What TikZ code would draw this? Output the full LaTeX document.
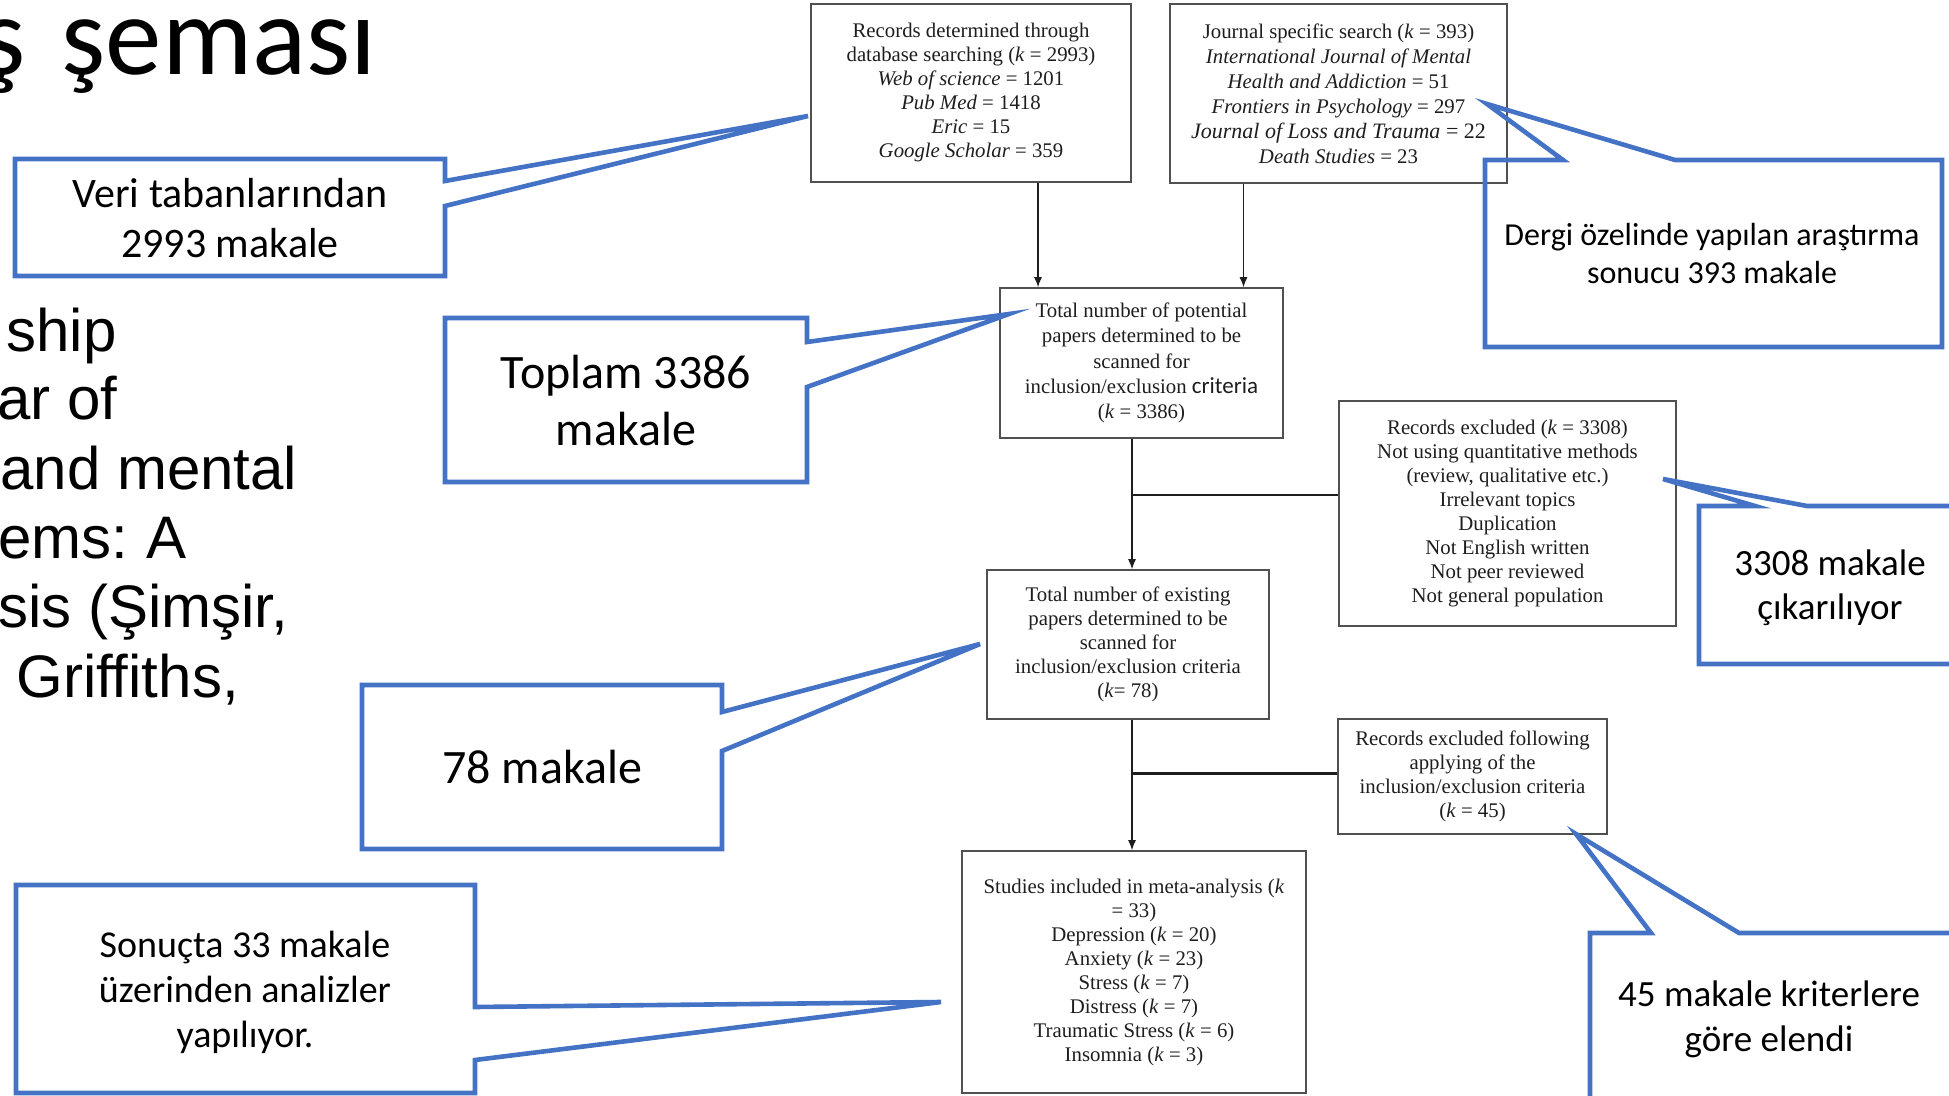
\documentclass[tikz,border=0pt]{standalone}
\usepackage{fontspec}
\setmainfont{Liberation Serif}
\newfontfamily\calibri{Carlito}
\newfontfamily\arial{Liberation Sans}
\definecolor{CallBlue}{RGB}{68,114,196}
\definecolor{BoxGray}{RGB}{80,80,80}
\definecolor{InkBlack}{RGB}{30,30,30}
\usetikzlibrary{arrows.meta,calc}

\tikzset{
  flowbox/.style={draw=BoxGray, line width=0.8pt, inner sep=0pt, align=center,
                  text=InkBlack, font=\fontsize{10.4}{12}\selectfont},
  callout/.style={draw=CallBlue, line width=2.3pt},
  calltext/.style={align=center, inner sep=0pt},
  arr/.style={draw=InkBlack, line width=0.6pt, -{Latex[length=5pt,width=4pt]}},
  branch/.style={draw=InkBlack, line width=1.3pt},
  bodyline/.style={anchor=base west, inner sep=0pt, font=\arial\fontsize{30}{34.5}\selectfont}
}

\begin{document}
\begin{tikzpicture}[x=0.5pt,y=-0.5pt]
  \useasboundingbox (0,0) rectangle (1949,1096);
  \clip (0,0) rectangle (1949,1096);
  \fill[white] (0,0) rectangle (1949,1096);

  % slide title and body text, cut at the left
  \node[anchor=base east, inner sep=0pt, font={\calibri\fontsize{56.5}{60}\selectfont}] (title) at (377,75) {ş\hspace{5pt} şeması};
  \node[bodyline] (body1) at (6,352) {ship};
  \node[bodyline] (body2) at (-3,420) {ar of};
  \node[bodyline] (body3) at (0,489) {and mental};
  \node[bodyline] (body4) at (-2,558) {ems:\hspace{-2pt} A};
  \node[bodyline] (body5) at (-2,627) {sis (Şimşir,};
  \node[bodyline] (body6) at (16,697) {Griffiths,};

  % flow chart
  \node[flowbox, minimum width=160pt, minimum height=89pt] (recdb) at (971,93) {
    Records determined through\\
    database searching (\textit{k} = 2993)\\
    \textit{Web of science} = 1201\\
    \textit{Pub Med} = 1418\\
    \textit{Eric} = 15\\
    \textit{Google Scholar} = 359};
  \node[flowbox, minimum width=168.5pt, minimum height=89.5pt,
        font=\fontsize{10.4}{12.5}\selectfont] (journal) at (1338.5,93.5) {
    Journal specific search (\textit{k} = 393)\\
    \textit{International Journal of Mental}\\
    \textit{Health and Addiction} = 51\\
    \textit{Frontiers in Psychology} = 297\\
    {\fontsize{11}{12.5}\selectfont\textit{Journal of Loss and Trauma} = 22}\\
    \textit{Death Studies} = 23};
  \node[flowbox, minimum width=141.5pt, minimum height=75pt,
        font=\fontsize{10.4}{12.6}\selectfont] (potential) at (1141.5,363) {
    Total number of potential\\
    papers determined to be\\
    scanned for\\
    inclusion/exclusion {\calibri\fontsize{11.5}{12.6}\selectfont criteria}\\
    (\textit{k} = 3386)};
  \node[flowbox, minimum width=168.5pt, minimum height=112.5pt] (excluded) at (1507.5,513.5) {
    Records excluded (\textit{k} = 3308)\\
    Not using quantitative methods\\
    (review, qualitative etc.)\\
    Irrelevant topics\\
    Duplication\\
    Not English written\\
    Not peer reviewed\\
    Not general population};
  \node[flowbox, minimum width=141pt, minimum height=74.5pt] (existing) at (1128,644.5) {
    Total number of existing\\
    papers determined to be\\
    scanned for\\
    inclusion/exclusion criteria\\
    (\textit{k}= 78)};
  \node[flowbox, minimum width=134.5pt, minimum height=57.5pt] (excfollow) at (1472.5,776.5) {
    Records excluded following\\
    applying of the\\
    inclusion/exclusion criteria\\
    (\textit{k} = 45)};
  \node[flowbox, minimum width=172pt, minimum height=121pt] (included) at (1134,972) {
    Studies included in meta-analysis (\textit{k}\\
    = 33)\\
    Depression (\textit{k} = 20)\\
    Anxiety (\textit{k} = 23)\\
    Stress (\textit{k} = 7)\\
    Distress (\textit{k} = 7)\\
    Traumatic Stress (\textit{k} = 6)\\
    Insomnia (\textit{k} = 3)};

  % connectors
  \coordinate (a1) at ($(recdb.south)+(67,0)$);
  \draw[arr] (a1) -- (a1 |- potential.north);
  \coordinate (b1) at ($(journal.south)+(-95,0)$);
  \draw[arr] (b1) -- (b1 |- potential.north);
  \coordinate (c1) at ($(potential.south)+(-9.5,0)$);
  \coordinate (c2) at (c1 |- existing.north);
  \draw[arr] (c1) -- (c2);
  \coordinate (j1) at ($(c1)!0.43!(c2)$);
  \draw[branch] (j1) -- (j1 -| excluded.west);
  \coordinate (e1) at ($(existing.south)+(4,0)$);
  \coordinate (e2) at (e1 |- included.north);
  \draw[arr] (e1) -- (e2);
  \coordinate (j2) at ($(e1)!0.41!(e2)$);
  \draw[branch] (j2) -- (j2 -| excfollow.west);

  % callouts
  \draw[callout] (15,159) -- (445,159) -- (445,181) -- (808,116) -- (445,206) -- (445,276) -- (15,276) -- cycle;
  \node[calltext, font={\calibri\fontsize{21}{25}\selectfont}] (veri) at (230,218) {Veri tabanlarından\\2993 makale};

  \draw[callout] (445,318) -- (807,318) -- (807,342) -- (1009,314) -- (807,387) -- (807,482) -- (445,482) -- cycle;
  \node[calltext, font={\calibri\fontsize{24}{28.5}\selectfont}] (toplam) at (626,401) {Toplam 3386\\makale};

  \draw[callout] (362,685) -- (722,685) -- (722,712) -- (980,644) -- (722,751) -- (722,849) -- (362,849) -- cycle;
  \node[calltext, font={\calibri\fontsize{24}{28}\selectfont}] (yetmis) at (542,767) {78 makale};

  \draw[callout] (16,885) -- (475,885) -- (475,1007) -- (941,1002) -- (475,1060) -- (475,1093) -- (16,1093) -- cycle;
  \node[calltext, font={\calibri\fontsize{19}{22.5}\selectfont}] (sonuc) at (245,992) {Sonuçta 33 makale\\üzerinden analizler\\yapılıyor.};

  \draw[callout] (1485,160) -- (1563,160) -- (1487,104) -- (1675,160) -- (1942,160) -- (1942,347) -- (1485,347) -- cycle;
  \node[calltext, font={\calibri\fontsize{16}{19}\selectfont}] (dergi) at (1712,254) {Dergi özelinde yapılan araştırma\\sonucu 393 makale};

  \draw[callout] (1699,506) -- (1755,506) -- (1663,479) -- (1807,506) -- (1975,506) -- (1975,664) -- (1699,664) -- cycle;
  \node[calltext, font={\calibri\fontsize{18.5}{22}\selectfont}] (cikar) at (1830,588) {3308 makale\\çıkarılıyor};

  \draw[callout] (1590,933) -- (1651,933) -- (1576,834) -- (1739,933) -- (1975,933) -- (1975,1110) -- (1590,1110) -- cycle;
  \node[calltext, font={\calibri\fontsize{18.5}{22.5}\selectfont}] (elendi) at (1769,1019) {45 makale kriterlere\\göre elendi};
\end{tikzpicture}
\end{document}
